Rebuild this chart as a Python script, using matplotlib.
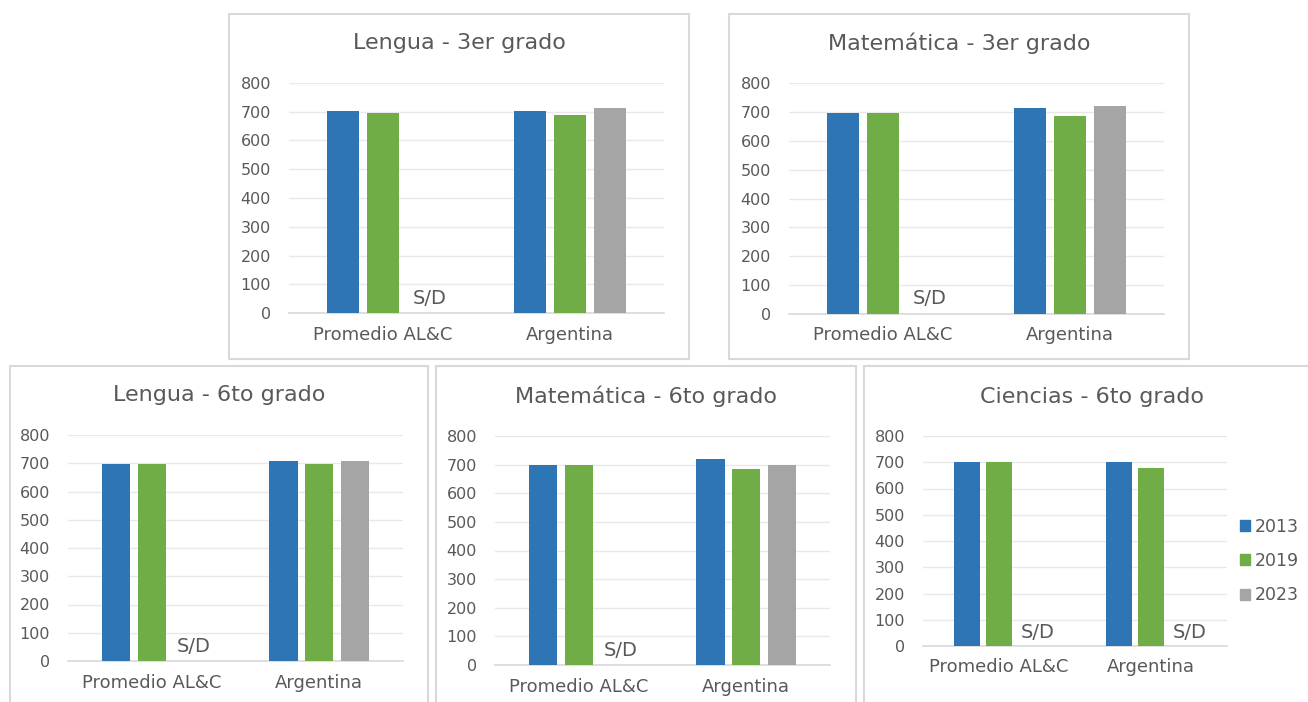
import numpy as np
import matplotlib.pyplot as plt
from matplotlib.patches import Rectangle, Patch

plt.rcParams['font.family'] = ['DejaVu Sans']

W, H = 1308, 702

categories = ['Promedio AL&C', 'Argentina']
years = ['2013', '2019', '2023']
colors = ['#2E75B6', '#70AD47', '#A5A5A5']

titles = ['Lengua - 3er grado', 'Matemática - 3er grado',
          'Lengua - 6to grado', 'Matemática - 6to grado',
          'Ciencias - 6to grado']

# puntajes por año (nan = sin dato, se rotula S/D)
vals_2013 = [[702, 702], [695, 714], [696, 708], [697, 721], [700, 700]]
vals_2019 = [[695, 690], [696, 684], [696, 696], [697, 686], [700, 680]]
vals_2023 = [[np.nan, 714], [np.nan, 719], [np.nan, 708], [np.nan, 697], [np.nan, np.nan]]

# pixel geometry: plot area (x0, x1, y of 800, y of 0) and box (l, t, r, b)
plot_px = [(289, 664, 83, 313), (789, 1164, 83, 314),
           (68, 403, 435, 661), (495, 830, 436, 665),
           (923, 1227, 436, 646)]
box_px = [(229, 14, 689, 359), (729, 14, 1189, 359),
          (10, 366, 428, 712), (436, 366, 856, 712),
          (864, 366, 1320, 712)]
title_y = [43, 43, 395, 396, 397]

text_c = '#595959'
grid_c = '#E9E9E9'

fig = plt.figure(figsize=(W / 100, H / 100), dpi=100)
fig.patch.set_facecolor('white')

width = 0.17
offsets = [-0.213, 0.0, 0.213]

for i in range(5):
    l, t, r, b = box_px[i]
    fig.patches.append(Rectangle((l / W, 1 - b / H), (r - l) / W, (b - t) / H,
                                 transform=fig.transFigure, fill=False,
                                 edgecolor='#D9D9D9', lw=1.5))
    fig.text((l + r) / 2 / W, 1 - title_y[i] / H, titles[i], ha='center',
             va='center', fontsize=16, color=text_c)

    x0, x1, ytop, ybot = plot_px[i]
    ax = fig.add_axes([x0 / W, 1 - ybot / H, (x1 - x0) / W, (ybot - ytop) / H])
    x = np.arange(len(categories))
    series = [vals_2013[i], vals_2019[i], vals_2023[i]]
    for k, s in enumerate(series):
        s = np.array(s, dtype=float)
        ax.bar(x + offsets[k], np.nan_to_num(s), width, color=colors[k],
               label=years[k], zorder=3)
        for j, v in enumerate(s):
            if np.isnan(v):
                ax.text(x[j] + offsets[k] + 0.04, 52, 'S/D', ha='center',
                        va='center', fontsize=14, color=text_c)

    ax.set_xlim(-0.5, 1.5)
    ax.set_ylim(0, 800)
    ax.set_yticks(range(0, 801, 100))
    ax.set_xticks(x)
    ax.set_xticklabels(categories)
    ax.yaxis.grid(True, color=grid_c, lw=1, zorder=0)
    ax.set_axisbelow(True)
    for sp in ['top', 'right', 'left']:
        ax.spines[sp].set_visible(False)
    ax.spines['bottom'].set_color('#D9D9D9')
    ax.spines['bottom'].set_linewidth(1.2)
    ax.tick_params(axis='y', length=0, pad=13, labelsize=11.5, labelcolor=text_c)
    ax.tick_params(axis='x', length=0, pad=9, labelsize=13, labelcolor=text_c)
    for lab in ax.get_yticklabels():
        lab.set_clip_on(False)

    if i == 4:
        handles = [Patch(color=c) for c in colors]
        fig.legend(handles, years, loc='center left',
                   bbox_to_anchor=(1224 / W, 1 - 561 / H), frameon=False,
                   handlelength=0.6, handleheight=0.6, handletextpad=0.3,
                   labelspacing=0.95, fontsize=12.5, labelcolor=text_c)

fig.savefig('out.png', dpi=100)
